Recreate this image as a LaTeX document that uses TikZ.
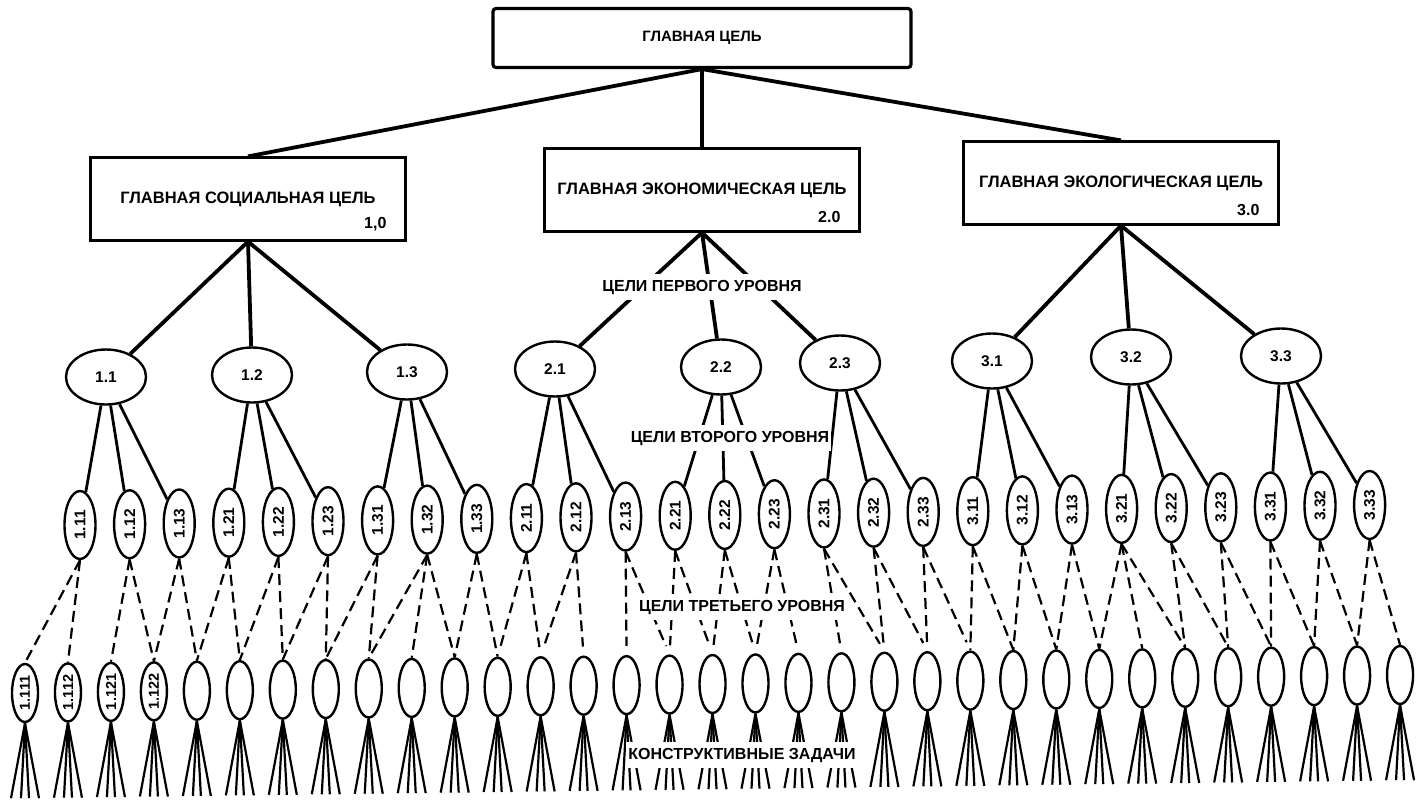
\documentclass[tikz,border=0pt]{standalone}
\usepackage{fontspec}
\setmainfont{Liberation Sans}
\usepackage{graphicx}
\usetikzlibrary{shapes.geometric,positioning}

\begin{document}
\begin{tikzpicture}[x=1pt, y=1pt,
    mainbox/.style={draw, line width=3.2pt, rounded corners=3pt, minimum width=418pt, minimum height=59pt, inner sep=0pt, font=\fontsize{15}{18}\selectfont\bfseries},
    goalbox/.style={draw, line width=2.2pt, minimum width=315pt, minimum height=83pt, inner sep=0pt, font=\fontsize{16.5}{19}\selectfont\bfseries},
    numlbl/.style={inner sep=0pt, font=\fontsize{16}{18}\selectfont\bfseries},
    lvlone/.style={draw, ellipse, line width=2.4pt, minimum width=80pt, minimum height=55pt, inner sep=0pt, font=\fontsize{15.5}{18}\selectfont\bfseries},
    lvltwo/.style={draw, ellipse, line width=2.4pt, minimum width=31pt, minimum height=68pt, inner sep=0pt, font=\fontsize{15.5}{18}\selectfont\bfseries},
    lvlthree/.style={draw, ellipse, line width=2.4pt, minimum width=26pt, minimum height=58pt, inner sep=0pt, font=\fontsize{14.5}{16}\selectfont\bfseries},
    trunk/.style={line width=3.8pt},
    branch/.style={line width=2.8pt},
    dashlink/.style={line width=2.2pt, dash pattern=on 11pt off 6pt},
    fanline/.style={line width=2.2pt},
    tierlbl/.style={fill=white, inner xsep=2pt, inner ysep=6pt, font=\fontsize{16}{18}\selectfont\bfseries}]

    \useasboundingbox (0,0) rectangle (1418,-804);

    % goals
    \node[mainbox] (top) at (702,-38) {ГЛАВНАЯ ЦЕЛЬ};
    \node[goalbox] (soc) at (248,-199) {ГЛАВНАЯ СОЦИАЛЬНАЯ ЦЕЛЬ};
    \node[goalbox] (econ) at (702,-190) {ГЛАВНАЯ ЭКОНОМИЧЕСКАЯ ЦЕЛЬ};
    \node[goalbox] (ecol) at (1121,-183) {ГЛАВНАЯ ЭКОЛОГИЧЕСКАЯ ЦЕЛЬ};
    \node[numlbl, above left=10pt and 20pt of soc.south east] (socnum) {1,0};
    \node[numlbl, above left=10pt and 20pt of econ.south east] (econnum) {2.0};
    \node[numlbl, above left=10pt and 20pt of ecol.south east] (ecolnum) {3.0};
    \draw[trunk] (top.south) -- (soc.north);
    \draw[trunk] (top.south) -- (econ.north);
    \draw[trunk] (top.south) -- (ecol.north);

    % first level
    \foreach \p/\q/\x/\y in {1/1/106/377, 1/2/252/375, 1/3/407/372, 2/1/555/369, 2/2/721/367, 2/3/840/363, 3/1/992/361, 3/2/1131/357, 3/3/1281/356}
        \node[lvlone] (l\p\q) at (\x,-\y) {\p.\q};
    \foreach \p/\b in {1/soc, 2/econ, 3/ecol}
        \foreach \q in {1,2,3}
            \draw[trunk] (\b.south) -- (l\p\q);

    % second level
    \foreach \p in {1,2,3}
        \foreach \q in {1,2,3}
            \foreach \r in {1,2,3} {
                \pgfmathtruncatemacro{\i}{9*(\p-1)+3*(\q-1)+\r}
                \node[lvltwo] (a\i) at ({80+(\i-1)*49.6}, {-525+(\i-1)*0.77}) {\rotatebox{90}{\p.\q\r}};
                \draw[branch] (l\p\q) -- (a\i);
            }

    % third level
    \foreach \j/\t in {1/1.111, 2/1.112, 3/1.121, 4/1.122}
        \node[lvlthree] (b\j) at ({25+(\j-1)*42.97}, {-693+(\j-1)*0.5625}) {\rotatebox{90}{\t}};
    \foreach \j in {5,...,33}
        \node[lvlthree] (b\j) at ({25+(\j-1)*42.97}, {-693+(\j-1)*0.5625}) {};
    \foreach \j in {1,...,33}
        \foreach \dx in {-14,-4,4,14}
            \draw[fanline] (b\j.south) -- ++(\dx,-75);

    \foreach \i/\js in {1/{1,2}, 2/{3,4}, 3/{4,5}, 4/{5,6}, 5/{6,7}, 6/{7,8}, 7/{8,9}, 8/{9,10,11}, 9/{11,12}, 19/{23,24}, 20/{24,25}, 21/{25,26}, 22/{26,27,28}, 23/{28,29}, 24/{29,30}, 25/{30,31}, 26/{31,32}, 27/{32,33}}
        \foreach \j in \js
            \draw[dashlink] (a\i.south) -- (b\j.north);
    \foreach \i/\js in {10/{12,13}, 11/{13,14}, 12/{15,16}, 13/{16,17}, 14/{17,18}, 15/{18,19}, 16/{20,21}, 17/{21,22}, 18/{22,23}}
        \foreach \j in \js
            \draw[dashlink, shorten >=9pt] (a\i.south) -- (b\j.north);

    % level captions
    \node[tierlbl] (tier1) at (702,-287) {ЦЕЛИ ПЕРВОГО УРОВНЯ};
    \node[tierlbl] (tier2) at (730,-438) {ЦЕЛИ ВТОРОГО УРОВНЯ};
    \node[tierlbl] (tier3) at (742,-607) {ЦЕЛИ ТРЕТЬЕГО УРОВНЯ};
    \node[tierlbl] (tier4) at (742,-755) {КОНСТРУКТИВНЫЕ ЗАДАЧИ};
\end{tikzpicture}
\end{document}
